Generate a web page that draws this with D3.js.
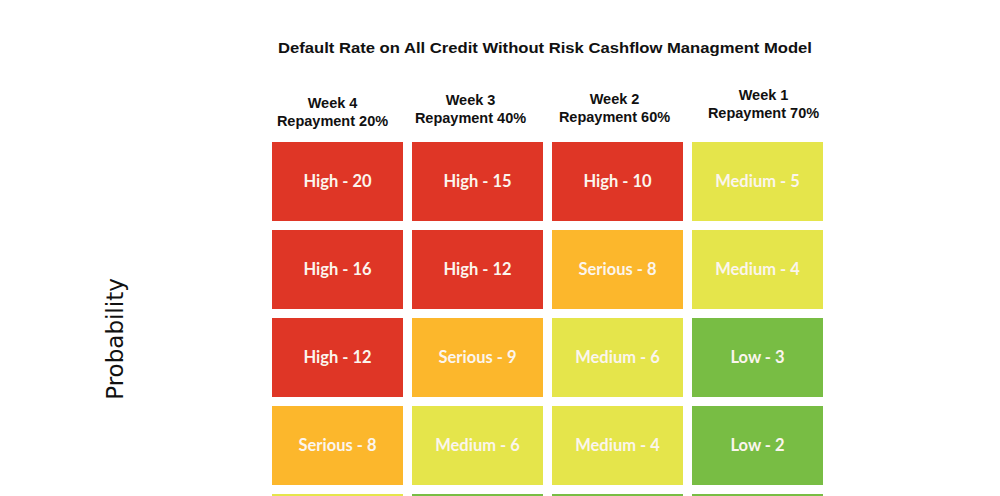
<!DOCTYPE html>
<html>
<head>
<meta charset="utf-8">
<script src="https://cdn.jsdelivr.net/npm/d3@7"></script>
<style>
html,body{margin:0;padding:0;background:#fff;overflow:hidden;}
</style>
</head>
<body>
<svg id="chart" width="1000" height="496"></svg>
<script>
const title = "Default Rate on All Credit Without Risk Cashflow Managment Model";
const weeks = ["Week 4", "Week 3", "Week 2", "Week 1"];
const repayments = ["Repayment 20%", "Repayment 40%", "Repayment 60%", "Repayment 70%"];
const headerOffsets = [0, -3, -4, -8];
const headerShifts = [-5, -7, -3, 6];
const rows = ["r5", "r4", "r3", "r2", "r1"];
const levels = [
  ["High", "High", "High", "Medium"],
  ["High", "High", "Serious", "Medium"],
  ["High", "Serious", "Medium", "Low"],
  ["Serious", "Medium", "Medium", "Low"],
  ["Medium", "Low", "Low", "Low"]
];
const scores = [
  [20, 15, 10, 5],
  [16, 12, 8, 4],
  [12, 9, 6, 3],
  [8, 6, 4, 2],
  [4, 3, 2, 1]
];
const levelColors = {High: "#df3626", Serious: "#fcb72c", Medium: "#e5e54b", Low: "#78bd44"};

const W = 1000, H = 496;
const svg = d3.select("#chart");

const x = d3.scaleBand().domain(weeks).range([272, 823]).paddingInner(9/140).paddingOuter(0);
const y = d3.scaleBand().domain(rows).range([142, 573]).paddingInner(9/88).paddingOuter(0);

const cells = [];
rows.forEach((r, i) => weeks.forEach((w, j) => cells.push({row: r, col: w, level: levels[i][j], score: scores[i][j]})));

svg.append("text")
  .attr("x", 545).attr("y", 53)
  .attr("text-anchor", "middle")
  .attr("font-family", "Liberation Sans, Arial, sans-serif")
  .attr("font-weight", "bold")
  .attr("font-size", 15)
  .attr("textLength", 534)
  .attr("lengthAdjust", "spacingAndGlyphs")
  .attr("fill", "#111")
  .text(title);

const hdr = svg.append("g");
weeks.forEach((w, j) => {
  const cx = x(w) + x.bandwidth() / 2 + headerShifts[j];
  const t = hdr.append("text")
    .attr("text-anchor", "middle")
    .attr("font-family", "Liberation Sans, Arial, sans-serif")
    .attr("font-weight", "bold")
    .attr("font-size", 14.5)
    .attr("fill", "#111");
  t.append("tspan").attr("x", cx).attr("y", 108 + headerOffsets[j]).text(w);
  t.append("tspan").attr("x", cx).attr("y", 126 + headerOffsets[j]).text(repayments[j]);
});

const g = svg.append("g");
g.selectAll("rect").data(cells).join("rect")
  .attr("x", d => x(d.col))
  .attr("y", d => y(d.row))
  .attr("width", x.bandwidth())
  .attr("height", y.bandwidth())
  .attr("fill", d => levelColors[d.level]);

// labels only for cells whose centre lies inside the visible frame
g.selectAll("text").data(cells.filter(d => y(d.row) + y.bandwidth() / 2 < H)).join("text")
  .attr("x", d => x(d.col) + x.bandwidth() / 2)
  .attr("y", d => y(d.row) + y.bandwidth() / 2)
  .attr("dy", "0.35em")
  .attr("text-anchor", "middle")
  .attr("font-family", "Lato, Open Sans, sans-serif")
  .attr("font-weight", "bold")
  .attr("font-size", 16.5)
  .attr("fill", "#fbf5ee")
  .text(d => d.level + " - " + d.score);

svg.append("text")
  .attr("transform", "translate(123,339) rotate(-90)")
  .attr("text-anchor", "middle")
  .attr("font-family", "DejaVu Sans, sans-serif")
  .attr("font-size", 23)
  .attr("fill", "#111")
  .text("Probability");
</script>
</body>
</html>
